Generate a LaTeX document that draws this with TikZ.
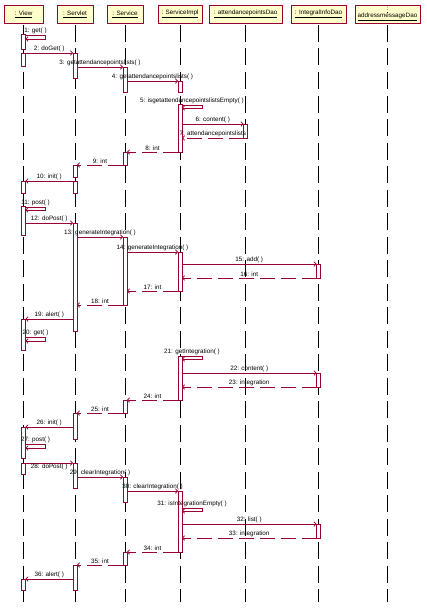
\documentclass[tikz,border=0pt]{standalone}
\usepackage{fontspec}
\setmainfont{Liberation Sans}
\usepackage{xcolor}
\usetikzlibrary{arrows.meta, positioning}
\definecolor{roseline}{RGB}{153,0,51}
\definecolor{rosefill}{RGB}{255,255,204}

\begin{document}
\begin{tikzpicture}[
  x=1pt, y=-1pt,
  every node/.style={font=\fontsize{6.3}{7}\selectfont},
  obj/.style={rectangle, draw=roseline, fill=rosefill, line width=0.9pt, minimum height=18pt, inner sep=1pt, outer sep=0pt, align=center},
  life/.style={draw=black, line width=0.9pt, dash pattern=on 17pt off 6.5pt},
  act/.style={rectangle, draw=roseline, fill=white, line width=0.9pt, minimum width=4pt, inner sep=0pt, outer sep=0pt, anchor=north},
  msg/.style={draw=roseline, line width=0.8pt, -{Straight Barb[length=2pt,width=4.5pt]}},
  ret/.style={msg, dash pattern=on 15pt off 6pt},
  lbl/.style={above, inner sep=1pt, text=black}
]
\useasboundingbox (0,0) rectangle (426,610);

\node[obj, minimum width=39pt] (view) at (23.5,14) {\underline{: View}};
\node[obj, minimum width=36pt, right=14pt of view] (servlet) {\underline{: Servlet}};
\node[obj, minimum width=36pt, right=14pt of servlet] (service) {\underline{: Service}};
\node[obj, minimum width=44pt, right=15pt of service] (impl) {\underline{: ServiceImpl}};
\node[obj, minimum width=73pt, right=7pt of impl] (apdao) {\underline{: attendancepointsDao}};
\node[obj, minimum width=55pt, right=9pt of apdao] (iidao) {\underline{: IntegralInfoDao}};
\node[obj, minimum width=65pt, right=9pt of iidao] (amdao) {\underline{:}\\\underline{addressmessageDao}};

\draw[life] ([yshift=-2pt]view.south) -- (view.south |- 0,602);
\draw[life] ([yshift=-2pt]servlet.south) -- (servlet.south |- 0,602);
\draw[life] ([yshift=-2pt]service.south) -- (service.south |- 0,602);
\draw[life] ([yshift=-2pt]impl.south) -- (impl.south |- 0,602);
\draw[life] ([yshift=-2pt]apdao.south) -- (apdao.south |- 0,602);
\draw[life] ([yshift=-2pt]iidao.south) -- (iidao.south |- 0,602);
\draw[life] ([yshift=-2pt]amdao.south) -- (amdao.south |- 0,602);

\node[act, minimum height=15pt] (v1) at (view.south |- 0,34) {};
\node[act, minimum height=13pt] (v2) at (view.south |- 0,53) {};
\node[act, minimum height=12pt] (v3) at (view.south |- 0,181) {};
\node[act, minimum height=29pt] (v4) at (view.south |- 0,206) {};
\node[act, minimum height=31pt] (v5) at (view.south |- 0,319) {};
\node[act, minimum height=31pt] (v6) at (view.south |- 0,427) {};
\node[act, minimum height=11pt] (v7) at (view.south |- 0,463) {};
\node[act, minimum height=11pt] (v8) at (view.south |- 0,579) {};

\node[act, minimum height=25pt] (s1) at (servlet.south |- 0,53) {};
\node[act, minimum height=12pt] (s2) at (servlet.south |- 0,165) {};
\node[act, minimum height=12pt] (s3) at (servlet.south |- 0,181) {};
\node[act, minimum height=108pt] (s4) at (servlet.south |- 0,223) {};
\node[act, minimum height=26pt] (s5) at (servlet.south |- 0,413) {};
\node[act, minimum height=25pt] (s6) at (servlet.south |- 0,463) {};
\node[act, minimum height=25pt] (s7) at (servlet.south |- 0,565) {};

\node[act, minimum height=25pt] (c1) at (service.south |- 0,67) {};
\node[act, minimum height=13pt] (c2) at (service.south |- 0,152) {};
\node[act, minimum height=68pt] (c3) at (service.south |- 0,237) {};
\node[act, minimum height=13pt] (c4) at (service.south |- 0,400) {};
\node[act, minimum height=25pt] (c5) at (service.south |- 0,477) {};
\node[act, minimum height=13pt] (c6) at (service.south |- 0,552) {};

\node[act, minimum height=11pt] (i1) at (impl.south |- 0,81) {};
\node[act, minimum height=48pt] (i2) at (impl.south |- 0,104) {};
\node[act, minimum height=39pt] (i3) at (impl.south |- 0,252) {};
\node[act, minimum height=44pt] (i4) at (impl.south |- 0,356) {};
\node[act, minimum height=61pt] (i5) at (impl.south |- 0,491) {};

\node[act, minimum height=14pt] (a1) at (apdao.south |- 0,124) {};

\node[act, minimum height=14pt] (d1) at (iidao.south |- 0,264) {};
\node[act, minimum height=14pt] (d2) at (iidao.south |- 0,373) {};
\node[act, minimum height=14pt] (d3) at (iidao.south |- 0,524) {};

\draw[msg] (v1.east |- 0,35) -- node[lbl] {1: get( )} ++(20,0) |- (v1.east |- 0,39);
\draw[msg] (v2.north east) -- node[lbl] {2: doGet( )} (s1.north west);
\draw[msg] (s1.east |- c1.north) -- node[lbl] {3: getattendancepointslists( )} (c1.north west);
\draw[msg] (c1.east |- i1.north) -- node[lbl] {4: getattendancepointslists( )} (i1.north west);
\draw[msg] (i2.east |- 0,105) -- node[lbl] {5: isgetattendancepointslistsEmpty( )} ++(20,0) |- (i2.east |- 0,108);
\draw[msg] (i2.east |- a1.north) -- node[lbl] {6: content( )} (a1.north west);
\draw[ret] (a1.south west) -- node[lbl] {7: attendancepointslists} (i2.east |- a1.south);
\draw[ret] (i2.south west) -- node[lbl] {8: int} (c2.north east);
\draw[ret] (c2.south west) -- node[lbl] {9: int} (s2.north east);
\draw[msg] (s3.north west) -- node[lbl] {10: init( )} (v3.north east);
\draw[msg] (v4.east |- 0,207) -- node[lbl] {11: post( )} ++(20,0) |- (v4.east |- 0,210);
\draw[msg] (v4.east |- s4.north) -- node[lbl] {12: doPost( )} (s4.north west);
\draw[msg] (s4.east |- c3.north) -- node[lbl] {13: generateIntegration( )} (c3.north west);
\draw[msg] (c3.east |- i3.north) -- node[lbl] {14: generateIntegration( )} (i3.north west);
\draw[msg] (i3.east |- d1.north) -- node[lbl] {15: add( )} (d1.north west);
\draw[ret] (d1.south west) -- node[lbl] {16: int} (i3.east |- d1.south);
\draw[ret] (i3.south west) -- node[lbl] {17: int} (c3.east |- i3.south);
\draw[ret] (c3.south west) -- node[lbl] {18: int} (s4.east |- c3.south);
\draw[msg] (s4.west |- v5.north) -- node[lbl] {19: alert( )} (v5.north east);
\draw[msg] (v5.east |- 0,337) -- node[lbl] {20: get( )} ++(20,0) |- (v5.east |- 0,341);
\draw[msg] (i4.east |- 0,356) -- node[lbl] {21: getIntegration( )} ++(20,0) |- (i4.east |- 0,359);
\draw[msg] (i4.east |- d2.north) -- node[lbl] {22: content( )} (d2.north west);
\draw[ret] (d2.south west) -- node[lbl] {23: integration} (i4.east |- d2.south);
\draw[ret] (i4.south west) -- node[lbl] {24: int} (c4.north east);
\draw[ret] (c4.south west) -- node[lbl] {25: int} (s5.north east);
\draw[msg] (s5.west |- v6.north) -- node[lbl] {26: init( )} (v6.north east);
\draw[msg] (v6.east |- 0,444) -- node[lbl] {27: post( )} ++(20,0) |- (v6.east |- 0,448);
\draw[msg] (v7.north east) -- node[lbl, below] {28: doPost( )} (s6.north west);
\draw[msg] (s6.east |- c5.north) -- node[lbl] {29: clearIntegration( )} (c5.north west);
\draw[msg] (c5.east |- i5.north) -- node[lbl] {30: clearIntegration( )} (i5.north west);
\draw[msg] (i5.east |- 0,508) -- node[lbl] {31: isIntegrationEmpty( )} ++(20,0) |- (i5.east |- 0,511);
\draw[msg] (i5.east |- d3.north) -- node[lbl] {32: list( )} (d3.north west);
\draw[ret] (d3.south west) -- node[lbl] {33: integration} (i5.east |- d3.south);
\draw[ret] (i5.south west) -- node[lbl] {34: int} (c6.north east);
\draw[ret] (c6.south west) -- node[lbl] {35: int} (s7.north east);
\draw[msg] (s7.west |- v8.north) -- node[lbl] {36: alert( )} (v8.north east);
\end{tikzpicture}
\end{document}
